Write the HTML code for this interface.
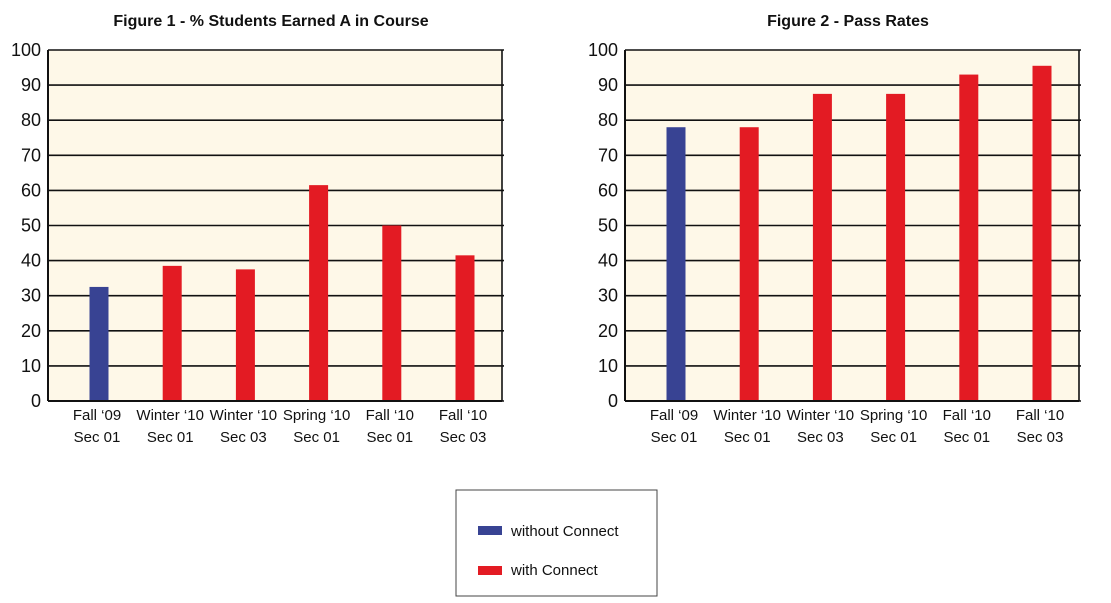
<!DOCTYPE html>
<html><head><meta charset="utf-8"><style>
html,body{margin:0;padding:0;background:#fff;width:1111px;height:603px;overflow:hidden}
svg{display:block}
text{font-family:"Liberation Sans",sans-serif;fill:#111}
</style></head><body>
<svg id="svg" width="1111" height="603">
<g id="c1"></g>
<g id="c2"></g>
<g>
<rect x="456" y="490" width="201" height="106" fill="#fff" stroke="#444" stroke-width="1"/>
<rect x="478" y="526" width="24" height="9" fill="#384393"/>
<text x="511" y="536" font-size="15">without Connect</text>
<rect x="478" y="566" width="24" height="9" fill="#e31b23"/>
<text x="511" y="575" font-size="15">with Connect</text>
</g>
</svg>
<script>
const categories=[["Fall \u201809","Sec 01"],["Winter \u201810","Sec 01"],["Winter \u201810","Sec 03"],["Spring \u201810","Sec 01"],["Fall \u201810","Sec 01"],["Fall \u201810","Sec 03"]];
const seriesA=[32.5,38.5,37.5,61.5,50,41.5];
const seriesPass=[78,78,87.5,87.5,93,95.5];
const withConnect=[false,true,true,true,true,true];
const yTicks=[0,10,20,30,40,50,60,70,80,90,100];
const titles=["Figure 1 - % Students Earned A in Course","Figure 2 - Pass Rates"];
const NS="http://www.w3.org/2000/svg";
function mk(p,tag,at){const e=document.createElementNS(NS,tag);for(const k in at)e.setAttribute(k,at[k]);p.appendChild(e);return e;}
function draw(g,x0,x1,values,title,idx){
  const top=50,bot=401;
  const y=v=>bot-(v/100)*(bot-top);
  const first=x0+51,step=73.2;
  const xc=i=>first+i*step;
  const bg=mk(g,'rect',{x:x0,y:top,width:x1-x0,height:bot-top,fill:'#fef8e8'});
  
  
  const t=mk(g,'text',{x:(x0+x1)/2-4,y:26,'text-anchor':'middle','font-size':'16','font-weight':'bold'});
  t.textContent=title;
  
  
  yTicks.forEach(v=>{
    const l=mk(g,'line',{x1:x0,x2:x1+2,y1:y(v),y2:y(v),stroke:'#111','stroke-width':'1.6'});
    
    
    const tl=mk(g,'text',{x:x0-7,y:y(v)+6,'text-anchor':'end','font-size':'18'});
    tl.textContent=v;
    
    
  });
  mk(g,'line',{x1:x0,x2:x0,y1:top,y2:bot,stroke:'#111','stroke-width':'2'});
  mk(g,'line',{x1:x1,x2:x1,y1:top,y2:bot,stroke:'#111','stroke-width':'1.6'});
  values.forEach((v,i)=>{
    const b=mk(g,'rect',{x:xc(i)-9.5,y:y(v),width:19,height:bot-y(v),fill:withConnect[i]?'#e31b23':'#384393'});
    
    
    categories[i].forEach((s,j)=>{
      const c=mk(g,'text',{x:xc(i)-2,y:420+j*22,'text-anchor':'middle','font-size':'15'});
      c.textContent=s;
      
      
    });
  });
  mk(g,'line',{x1:x0,x2:x1,y1:bot,y2:bot,stroke:'#111','stroke-width':'2'});
}
draw(document.getElementById('c1'),48,502,seriesA,titles[0],1);
draw(document.getElementById('c2'),625,1079,seriesPass,titles[1],2);
</script>
</body></html>
